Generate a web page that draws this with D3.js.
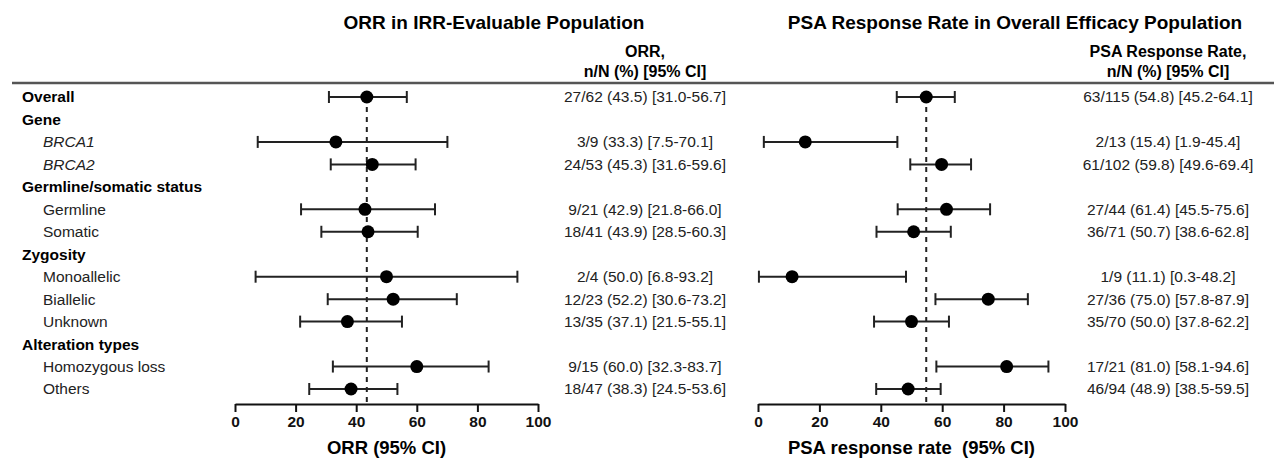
<!DOCTYPE html>
<html>
<head>
<meta charset="utf-8">
<script src="https://cdn.jsdelivr.net/npm/d3@7"></script>
<style>
  body { margin: 0; background: #fff; }
  svg { display: block; font-family: "Liberation Sans", Arial, sans-serif; }
</style>
</head>
<body>
<svg width="1274" height="459"></svg>
<script>
// row labels and whether they are group headers (h), subgroups (s) or italic gene names (g)
var rowLabels = ["Overall", "Gene", "BRCA1", "BRCA2", "Germline/somatic status", "Germline", "Somatic",
  "Zygosity", "Monoallelic", "Biallelic", "Unknown", "Alteration types", "Homozygous loss", "Others"];
var rowTypes = ["h", "h", "g", "g", "h", "s", "s", "h", "s", "s", "s", "h", "s", "s"];

// ORR in IRR-evaluable population (null = header row without data)
var orrN   = ["27/62", null, "3/9", "24/53", null, "9/21", "18/41", null, "2/4", "12/23", "13/35", null, "9/15", "18/47"];
var orrEst = [43.5, null, 33.3, 45.3, null, 42.9, 43.9, null, 50.0, 52.2, 37.1, null, 60.0, 38.3];
var orrLo  = [31.0, null, 7.5, 31.6, null, 21.8, 28.5, null, 6.8, 30.6, 21.5, null, 32.3, 24.5];
var orrHi  = [56.7, null, 70.1, 59.6, null, 66.0, 60.3, null, 93.2, 73.2, 55.1, null, 83.7, 53.6];

// PSA response rate in overall efficacy population
var psaN   = ["63/115", null, "2/13", "61/102", null, "27/44", "36/71", null, "1/9", "27/36", "35/70", null, "17/21", "46/94"];
var psaEst = [54.8, null, 15.4, 59.8, null, 61.4, 50.7, null, 11.1, 75.0, 50.0, null, 81.0, 48.9];
var psaLo  = [45.2, null, 1.9, 49.6, null, 45.5, 38.6, null, 0.3, 57.8, 37.8, null, 58.1, 38.5];
var psaHi  = [64.1, null, 45.4, 69.4, null, 75.6, 62.8, null, 48.2, 87.9, 62.2, null, 94.6, 59.5];

var axisTicks = [0, 20, 40, 60, 80, 100];

document.addEventListener("DOMContentLoaded", function () {

  var svg = d3.select("svg");
  var yScale = d3.scalePoint().domain(d3.range(rowLabels.length)).range([97, 389]);
  var axisY = 404;

  drawRowLabels();

  drawPanel({
    n: orrN, est: orrEst, lo: orrLo, hi: orrHi,
    range: [235, 538], textX: 645,
    title: "ORR in IRR-Evaluable Population", titleX: 494,
    head1: "ORR,", axisTitle: "ORR (95% CI)"
  });

  drawPanel({
    n: psaN, est: psaEst, lo: psaLo, hi: psaHi,
    range: [758, 1065], textX: 1168,
    title: "PSA Response Rate in Overall Efficacy Population", titleX: 1015,
    head1: "PSA Response Rate,", axisTitle: "PSA response rate \u00a0(95% CI)"
  });

  // rule under the column headers
  svg.append("line")
    .attr("x1", 12).attr("x2", 1274)
    .attr("y1", 83).attr("y2", 83)
    .style("stroke", "#555")
    .style("stroke-width", "2.5px");

  function drawRowLabels() {
    svg.append("g")
      .selectAll("text")
      .data(rowLabels).enter()
      .append("text")
      .attr("x", function (d, i) { return rowTypes[i] === "h" ? 22 : 43; })
      .attr("y", function (d, i) { return yScale(i); })
      .attr("dy", "0.35em")
      .style("font-size", "15.5px")
      .style("font-weight", function (d, i) { return rowTypes[i] === "h" ? "bold" : "normal"; })
      .style("font-style", function (d, i) { return rowTypes[i] === "g" ? "italic" : "normal"; })
      .style("fill", function (d, i) { return rowTypes[i] === "h" ? "#000" : "#222"; })
      .text(function (d) { return d; });
  }

  function drawPanel(p) {
    var xScale = d3.scaleLinear().domain([0, 100]).range(p.range);
    var rows = d3.range(rowLabels.length).filter(function (i) { return p.est[i] !== null; });

    svg.append("text")
      .attr("x", p.titleX).attr("y", 29)
      .attr("text-anchor", "middle")
      .style("font-size", "19px").style("font-weight", "bold")
      .text(p.title);

    svg.append("text")
      .attr("x", p.textX).attr("y", 57)
      .attr("text-anchor", "middle")
      .style("font-size", "16px").style("font-weight", "bold")
      .text(p.head1);

    svg.append("text")
      .attr("x", p.textX).attr("y", 77)
      .attr("text-anchor", "middle")
      .style("font-size", "16px").style("font-weight", "bold")
      .text("n/N (%) [95% CI]");

    // dashed reference line at the overall estimate
    svg.append("line")
      .attr("x1", xScale(p.est[0])).attr("x2", xScale(p.est[0]))
      .attr("y1", yScale(0)).attr("y2", axisY)
      .style("stroke", "#222")
      .style("stroke-width", "2px")
      .style("stroke-dasharray", "5,5");

    var axis = d3.axisBottom(xScale)
      .tickValues(axisTicks)
      .tickSize(8)
      .tickSizeOuter(0)
      .tickPadding(4);

    var axisG = svg.append("g")
      .attr("transform", "translate(0," + axisY + ")")
      .call(axis);
    axisG.select("path.domain").style("stroke", "#111").style("stroke-width", "2px");
    axisG.selectAll(".tick line").style("stroke", "#111").style("stroke-width", "2px");
    axisG.selectAll(".tick text")
      .style("font-family", "'Liberation Sans', Arial, sans-serif")
      .style("font-size", "15.5px").style("font-weight", "bold").style("fill", "#111");

    svg.append("text")
      .attr("x", (p.range[0] + p.range[1]) / 2).attr("y", 454)
      .attr("text-anchor", "middle")
      .style("font-size", "18.5px").style("font-weight", "bold")
      .text(p.axisTitle);

    svg.append("g")
      .selectAll("g.bar")
      .data(rows).enter()
      .append("g")
      .attr("class", "bar")
      .attr("transform", function (i) { return "translate(0," + yScale(i) + ")"; })
      .each(function (i) {
        var g = d3.select(this);

        g.append("line")
          .attr("x1", xScale(p.lo[i])).attr("x2", xScale(p.hi[i]))
          .attr("y1", 0).attr("y2", 0)
          .style("stroke", "#222").style("stroke-width", "2px");

        // end caps
        [p.lo[i], p.hi[i]].forEach(function (v) {
          g.append("line")
            .attr("x1", xScale(v)).attr("x2", xScale(v))
            .attr("y1", -6).attr("y2", 6)
            .style("stroke", "#222").style("stroke-width", "2px");
        });

        g.append("circle")
          .attr("cx", xScale(p.est[i])).attr("cy", 0)
          .attr("r", 6.5)
          .style("fill", "#000");

        g.append("text")
          .attr("x", p.textX).attr("y", 0)
          .attr("dy", "0.35em")
          .attr("text-anchor", "middle")
          .style("font-size", "15.5px").style("fill", "#222")
          .text(p.n[i] + " (" + p.est[i].toFixed(1) + ") [" + p.lo[i].toFixed(1) + "-" + p.hi[i].toFixed(1) + "]");
      });
  }

});
</script>
</body>
</html>
